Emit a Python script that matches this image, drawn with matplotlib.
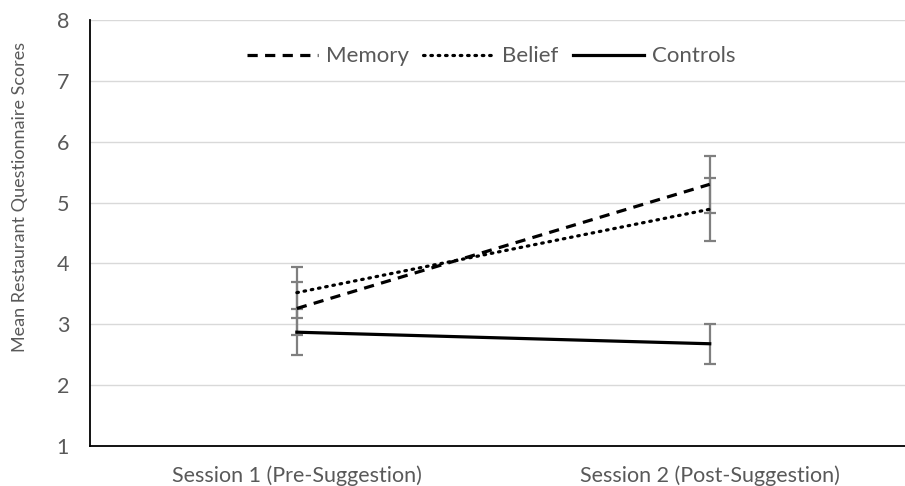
import numpy as np
import matplotlib
matplotlib.use("Agg")
from matplotlib import pyplot as plt

# chart data
categories = ['Session 1 (Pre-Suggestion)', 'Session 2 (Post-Suggestion)']
memory = [3.26, 5.30]
memory_err = [0.44, 0.47]
belief = [3.52, 4.89]
belief_err = [0.42, 0.52]
controls = [2.87, 2.68]
controls_err = [0.38, 0.33]

plt.rcParams['font.family'] = ['Lato', 'DejaVu Sans']
text_col = '#595959'

fig = plt.figure(figsize=(9.05, 4.86), dpi=100)
ax = fig.add_axes([90 / 905, 40 / 486, 1 - 90 / 905, 426 / 486])

x = np.arange(len(categories))

# error bars first, lines on top
for vals, errs in [(memory, memory_err), (belief, belief_err), (controls, controls_err)]:
    ax.errorbar(x, vals, yerr=errs, fmt='none', ecolor='#7f7f7f',
                elinewidth=1.6, capsize=4.3, capthick=1.6, zorder=2)

ax.plot(x, memory, color='black', lw=2.3, linestyle=(0, (3.2, 2.3)), label='Memory', zorder=3)
ax.plot(x, belief, color='black', lw=2.3, linestyle=(0, (0.5, 1.8)),
        dash_capstyle='round', label='Belief', zorder=3)
ax.plot(x, controls, color='black', lw=2.3, label='Controls', zorder=3)

ax.set_xlim(-0.501, 1.473)
ax.set_ylim(1, 8)
ax.set_yticks(range(1, 9))
ax.set_xticks(x)
ax.set_xticklabels(categories)
ax.tick_params(axis='both', length=0, labelsize=15.5, labelcolor=text_col)
ax.tick_params(axis='x', pad=14)
ax.tick_params(axis='y', pad=15)
ax.yaxis.grid(True, color='#d9d9d9', lw=1)
ax.set_axisbelow(True)

for s in ['top', 'right']:
    ax.spines[s].set_visible(False)
for s in ['left', 'bottom']:
    ax.spines[s].set_color('black')
    ax.spines[s].set_linewidth(1.3)

ax.set_ylabel('Mean Restaurant Questionnaire Scores', fontsize=13, color=text_col,
              va='center')
ax.yaxis.set_label_coords(-0.086, 0.585)

leg = ax.legend(loc='upper center', bbox_to_anchor=(0.492, 0.985), ncol=3, frameon=False,
                handlelength=3.2, handletextpad=0.35, columnspacing=0.65, fontsize=16)
for t in leg.get_texts():
    t.set_color(text_col)

fig.savefig('out.png', dpi=100)
